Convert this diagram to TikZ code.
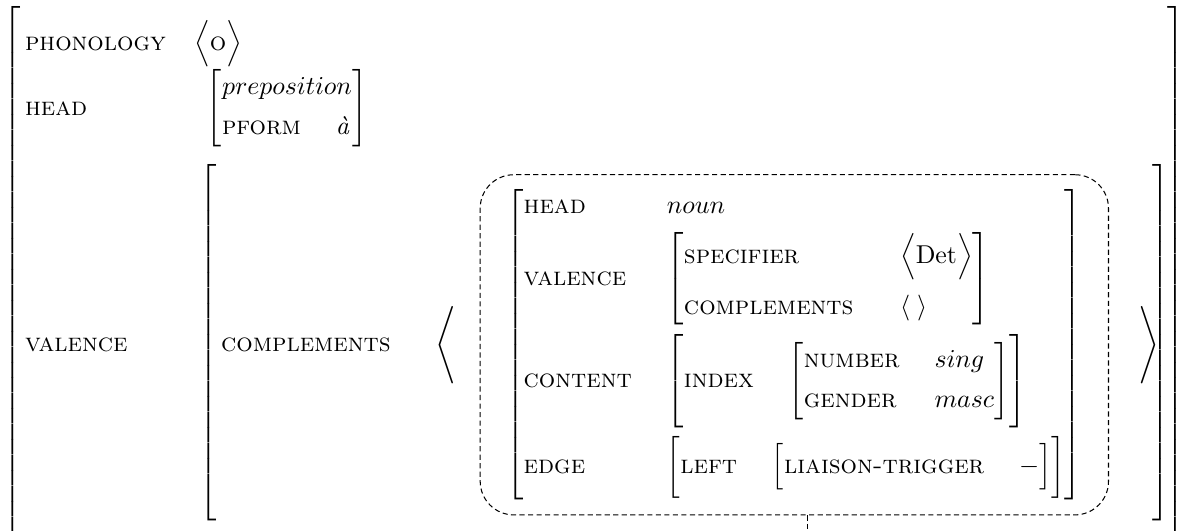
\documentclass[tikz,border=0pt]{standalone}
\usepackage{amsmath}
\usetikzlibrary{positioning, fit, matrix, calc}

\newlength{\avmgap}
\setlength{\avmgap}{13.5pt}
\delimitershortfall=-1pt
\newcommand{\ft}[1]{\text{\textsc{#1}}}
\newcommand{\rowgap}[1]{\noalign{\vskip #1}}
% #1 = height asked of the brackets, #2 = rows
\newcommand{\fstruct}[2]{\left[\vcenter{\hbox{\rule{0pt}{#1}}}%
  \begin{array}{@{}l@{\hspace{\avmgap}}l@{}}#2\end{array}\right]}

\begin{document}
\begin{tikzpicture}[
  lbl/.style={anchor=west, inner sep=0pt, font=\scshape},
  val/.style={anchor=west, inner sep=0pt},
  dbox/.style={draw, dash pattern=on 2pt off 1.3pt, rounded corners=13pt,
    inner xsep=10pt, inner ysep=5.7pt},
  brk/.style={inner sep=0pt, left delimiter={[}, right delimiter={]}},
  tick/.style={dash pattern=on 2pt off 1.3pt}
]
% features of the outer structure
\node[lbl] (phon) at (9.5pt,-17.1pt) {phonology};
\node[lbl] (head) at (9.5pt,-42pt) {head};
\node[lbl] (vale) at (9.5pt,-133.6pt) {valence};

% their values
\node[val] (phonv) at (75pt,-17.1pt) {$\bigl\langle\text{\textsc{o}}\bigr\rangle$};
\node[val] (headv) at (80pt,-42pt)
  {$\fstruct{28.5pt}{\multicolumn{2}{@{}l@{}}{preposition}\\[3.6pt] \ft{pform} & \textit{à}}$};

% the list of complements
\node[lbl] (vcomp) at (85.5pt,-133.6pt) {complements};
\node[right=17pt of vcomp, inner sep=0pt] (lang) {$\Bigg\langle$};
\node[right=19pt of lang, inner sep=0pt] (comp) {$\fstruct{118.5pt}{
  \ft{head} & noun \\ \rowgap{3.8pt}
  \ft{valence} & {\setlength{\avmgap}{18pt}%
    \fstruct{34.5pt}{\ft{specifier} & \bigl\langle\mathrm{Det}\bigr\rangle \\[7.8pt]
                     \ft{complements} & \langle\;\rangle}} \\ \rowgap{3.7pt}
  \ft{content} & \fstruct{34.5pt}{\ft{index} & \fstruct{28.5pt}{\ft{number} & sing \\[3.2pt]
                                                               \ft{gender} & masc}} \\ \rowgap{3.2pt}
  \ft{edge} & \fstruct{22.5pt}{\ft{left} & \fstruct{16.5pt}{\ft{liaison-trigger} & -}}}$};
\node[dbox, fit=(comp)] (box) {};
\node[right=11.4pt of box, inner sep=0pt] (rang) {$\Bigg\rangle$};

% brackets
\node[brk, fit=(vcomp)(box)(rang.center), inner ysep=1.8pt] (valb) {};
\coordinate (otop) at (0,-3.75pt);
\coordinate (obot) at (0,-278.25pt);
\coordinate[right=5.3pt of valb] (oright);
\node[brk, fit=(phon.west |- otop) (oright |- obot)] (outer) {};

% link to the tag below
\coordinate (tag) at ($(box.south)+(5pt,-14pt)$);
\draw[tick] (box.south -| tag) -- (tag);

\pgfresetboundingbox
\path[use as bounding box] let \p1=(phon.west), \p2=(outer.east),
  \n1={\x2-\x1+18pt} in (\x1-9.5pt,0pt) rectangle (\x2+8.5pt,-0.44772*\n1);
\end{tikzpicture}
\end{document}
